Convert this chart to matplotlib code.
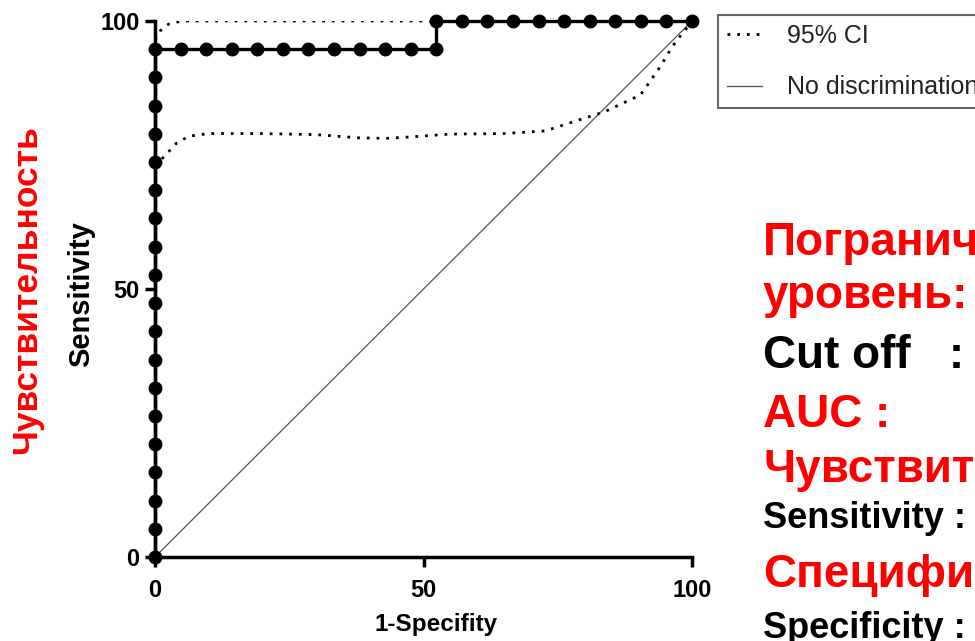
import matplotlib
matplotlib.use("Agg")
import matplotlib.pyplot as plt

plt.rcParams['font.family'] = ['Liberation Sans', 'DejaVu Sans']

# ROC points (1-specificity %, sensitivity %)
roc_x = [0, 0, 0, 0, 0, 0, 0, 0, 0, 0, 0, 0, 0, 0, 0, 0, 0, 0, 0,
         4.76, 9.52, 14.29, 19.05, 23.81, 28.57, 33.33, 38.10, 42.86, 47.62, 52.38,
         52.38, 57.14, 61.90, 66.67, 71.43, 76.19, 80.95, 85.71, 90.48, 95.24, 100]
roc_y = [0, 5.26, 10.53, 15.79, 21.05, 26.32, 31.58, 36.84, 42.11, 47.37,
         52.63, 57.89, 63.16, 68.42, 73.68, 78.95, 84.21, 89.47, 94.74,
         94.74, 94.74, 94.74, 94.74, 94.74, 94.74, 94.74, 94.74, 94.74, 94.74, 94.74,
         100, 100, 100, 100, 100, 100, 100, 100, 100, 100, 100]

# 95% CI bands
ci_up_x = [0, 1, 2.5, 5, 10, 30, 52.4, 100]
ci_up_y = [96.5, 98.2, 99.4, 100, 100, 100, 100, 100]
ci_lo_x = [0, 1.5, 4, 6.3, 10, 20, 30, 38, 43, 48, 55, 65, 72.7, 77.9, 83.8, 90.4, 94.1, 96.3, 100]
ci_lo_y = [73, 74.5, 77.2, 78.5, 79, 79, 78.8, 78.2, 78.1, 78.4, 78.9, 79, 79.5, 81.2, 83.1, 86.2, 91.5, 95.2, 100]

ref_x = [0, 100]
ref_y = [0, 100]

ticks = [0, 50, 100]

fig = plt.figure(figsize=(9.75, 6.41), dpi=100)
ax = fig.add_axes([155/975, 1 - 557/641, 537/975, 536/641])

ax.plot(ref_x, ref_y, color='#555555', lw=0.9, label='No discrimination', zorder=2)
ax.plot(ci_up_x, ci_up_y, color='black', lw=2, linestyle=(0, (1, 2.5)), label='95% CI', zorder=3)
ax.plot(ci_lo_x, ci_lo_y, color='black', lw=2, linestyle=(0, (1, 2.5)), zorder=3)
ax.plot(roc_x, roc_y, color='black', lw=2.4, marker='o', markersize=9, clip_on=False, zorder=5)

ax.set_xlim(0, 100)
ax.set_ylim(0, 100)
ax.set_xticks(ticks)
ax.set_yticks(ticks)
for s in ['top', 'right']:
    ax.spines[s].set_visible(False)
for s in ['left', 'bottom']:
    ax.spines[s].set_linewidth(2.5)
ax.tick_params(axis='both', length=7, width=2.5, labelsize=17)
ax.tick_params(axis='y', pad=4)
ax.tick_params(axis='x', pad=9)
for lab in ax.get_xticklabels() + ax.get_yticklabels():
    lab.set_fontweight('bold')

ax.set_xlabel('1-Specifity', fontsize=17.5, fontweight='bold')
ax.set_ylabel('Sensitivity', fontsize=21, fontweight='bold')
ax.xaxis.set_label_coords(0.523, -0.105)
ax.yaxis.set_label_coords(-0.112, 0.49)

h, l = ax.get_legend_handles_labels()
leg = fig.legend([h[1], h[0]], [l[1], l[0]], loc='upper left', bbox_to_anchor=(718/975, 1 - 15/641),
                 borderaxespad=0, fontsize=18, frameon=True, fancybox=False, edgecolor='#444444',
                 handlelength=1.4, handletextpad=1.0, labelspacing=1.1, borderpad=0.35,
                 labelcolor='#222222')
leg.get_frame().set_linewidth(1.5)

fig.text(27/975, 1 - 290/641, 'Чувствительность', rotation=90, ha='center', va='center',
         color='red', fontsize=25.5, fontweight='bold')

red = '#ff0000'
x0 = 763/975
fig.text(x0, 1 - 255/641, 'Пограничный', color=red, fontsize=33, fontweight='bold', va='baseline')
fig.text(x0, 1 - 308/641, 'уровень:', color=red, fontsize=33, fontweight='bold', va='baseline')
fig.text(x0, 1 - 368/641, 'Cut off   :', color='black', fontsize=33, fontweight='bold', va='baseline')
fig.text(x0, 1 - 427/641, 'AUC :', color=red, fontsize=33, fontweight='bold', va='baseline')
fig.text(x0, 1 - 482/641, 'Чувствительность', color=red, fontsize=33, fontweight='bold', va='baseline')
fig.text(x0, 1 - 528/641, 'Sensitivity :', color='black', fontsize=26, fontweight='bold', va='baseline')
fig.text(x0, 1 - 587/641, 'Специфичность', color=red, fontsize=33, fontweight='bold', va='baseline')
fig.text(x0, 1 - 638/641, 'Specificity :', color='black', fontsize=26, fontweight='bold', va='baseline')

plt.savefig('out.png', dpi=100)
